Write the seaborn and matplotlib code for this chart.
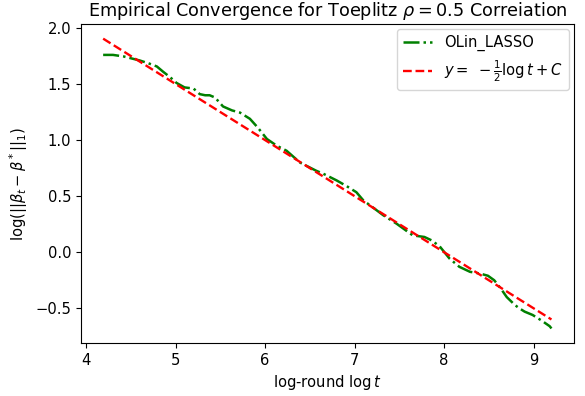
import numpy as np
import pandas as pd
import matplotlib
matplotlib.use("Agg")
import matplotlib.pyplot as plt
import seaborn as sns

# log-round values and observed log-error for OLin_LASSO
log_t = [4.19, 4.30, 4.42, 4.52, 4.60, 4.69, 4.79, 4.86, 4.94, 5.01, 5.10, 5.20, 5.27,
         5.33, 5.38, 5.44, 5.53, 5.63, 5.72, 5.83, 5.92, 6.02, 6.13, 6.24, 6.39, 6.57,
         6.65, 6.80, 6.91, 7.02, 7.10, 7.17, 7.32, 7.47, 7.65, 7.78, 7.86, 7.95,
         8.06, 8.17, 8.29, 8.40, 8.49, 8.56, 8.63, 8.70, 8.79, 8.84, 8.90, 8.99,
         9.09, 9.18, 9.20]
log_err = [1.76, 1.76, 1.746, 1.726, 1.71, 1.687, 1.657, 1.61, 1.56, 1.51, 1.47, 1.46, 1.41,
           1.40, 1.40, 1.38, 1.30, 1.265, 1.245, 1.19, 1.11, 1.01, 0.95, 0.905, 0.80, 0.727,
           0.70, 0.64, 0.59, 0.535, 0.46, 0.42, 0.33, 0.254, 0.15, 0.136, 0.106, 0.053,
           -0.056, -0.13, -0.175, -0.19, -0.21, -0.25, -0.32, -0.40, -0.47, -0.50, -0.53, -0.56,
           -0.61, -0.66, -0.68]

# reference slope line y = -1/2 log t + C
slope = -0.5
intercept = 4.0

title = r"Empirical Convergence for Toeplitz $\rho=0.5$ Correiation"
xlabel = r"log-round $\log t$"
ylabel = r"$\log(||\beta_t-\beta^*||_1)$"
label_series = "OLin_LASSO"
label_fit = r"$y=\;-\frac{1}{2}\log t+C$"

plt.rcParams["font.size"] = 10.6
plt.rcParams["axes.titlesize"] = 12.7

df = pd.DataFrame({"x": log_t, "y": log_err})
fit_df = pd.DataFrame({"x": [log_t[0], log_t[-1]]})
fit_df["y"] = slope * fit_df["x"] + intercept

fig, ax = plt.subplots(figsize=(5.85, 3.96), dpi=100)
sns.lineplot(data=df, x="x", y="y", ax=ax, color="green", linestyle="-.",
             linewidth=1.8, label=label_series)
sns.lineplot(data=fit_df, x="x", y="y", ax=ax, color="red", linestyle="--",
             linewidth=1.7, label=label_fit)
ax.set_title(title)
ax.set_xlabel(xlabel)
ax.set_ylabel(ylabel)
ax.legend(loc="upper right", borderaxespad=0.35)
fig.subplots_adjust(left=0.138, right=0.981, top=0.939, bottom=0.134)
fig.savefig("out.png", dpi=100)
